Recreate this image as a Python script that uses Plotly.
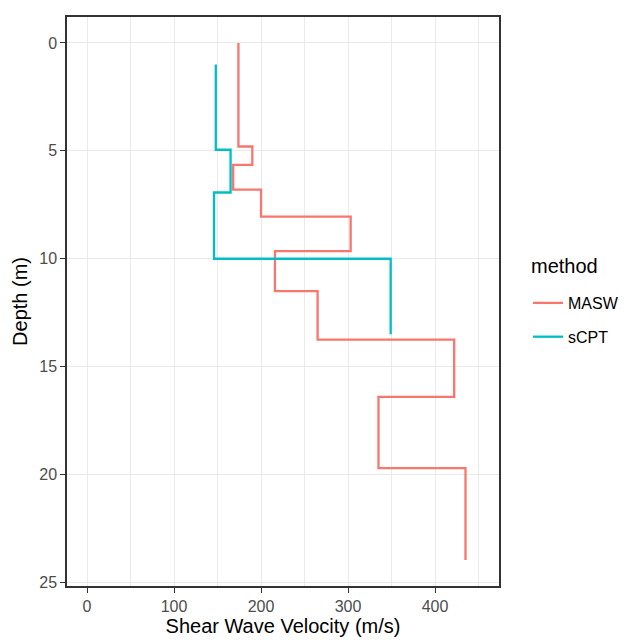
import plotly.graph_objects as go

# Data
masw_top = [0.0, 4.8, 5.65, 6.8, 8.05, 9.65, 11.5, 13.75, 16.4, 19.7]
masw_vs = [174, 190, 168, 200, 303, 216, 265, 422, 335, 435]
masw_bottom = 23.95

scpt_top = [1.0, 4.95, 6.93, 10.0]
scpt_vs = [148, 165, 146, 349]
scpt_bottom = 13.5

x_ticks = [0, 100, 200, 300, 400]
y_ticks = [0, 5, 10, 15, 20, 25]

FONT = "Liberation Sans"
W, H = 624, 640
ML, MR, MT, MB = 67, 125, 17, 54
PW, PH = W - ML - MR, H - MT - MB

def px_x(p):
    return (p - ML) / PW

def px_y(p):
    return (H - MB - p) / PH

def profile(vs, top, bottom):
    return list(vs) + [vs[-1]], list(top) + [bottom]

fig = go.Figure()
for name, vs, top, bot, col in [
    ("MASW", masw_vs, masw_top, masw_bottom, "#F8766D"),
    ("sCPT", scpt_vs, scpt_top, scpt_bottom, "#00BFC4"),
]:
    x, y = profile(vs, top, bot)
    fig.add_trace(go.Scatter(x=x, y=y, mode="lines", name=name, legendgroup=name,
                             line=dict(color=col, width=2.3, shape="vh")))

axis_common = dict(
    showgrid=True, gridcolor="#EBEBEB", gridwidth=1.3, automargin=False,
    zeroline=False, showline=True, linecolor="#333333", linewidth=1.5, mirror=True,
    ticks="outside", ticklen=5, tickcolor="#333333", tickwidth=1.3,
    tickfont=dict(family=FONT, size=16, color="#4D4D4D"),
)

fig.update_xaxes(
    range=[-23, 473.5], tickvals=x_ticks, ticktext=[str(v) for v in x_ticks],
    minor=dict(dtick=50, tick0=0, showgrid=True, gridcolor="#EBEBEB", gridwidth=0.8, ticks=""),
    title=dict(text="Shear Wave Velocity (m/s)", font=dict(family=FONT, size=20, color="black"), standoff=4),
    **axis_common,
)
fig.update_yaxes(
    range=[25.16, -1.2], tickvals=y_ticks, ticktext=[str(v) for v in y_ticks],
    title=dict(text="Depth (m)", font=dict(family=FONT, size=20, color="black"), standoff=6),
    **axis_common,
)

fig.add_annotation(text="method", xref="paper", yref="paper",
                   x=px_x(529), y=px_y(266), xanchor="left", yanchor="middle",
                   showarrow=False, font=dict(family=FONT, size=20, color="black"))

fig.update_layout(
    width=W, height=H,
    margin=dict(l=ML, r=MR, t=MT, b=MB, autoexpand=False),
    plot_bgcolor="white", paper_bgcolor="white",
    font=dict(family=FONT),
    legend=dict(
        font=dict(family=FONT, size=16, color="black"),
        xref="container", yref="container",
        x=528 / W, xanchor="left", y=1 - 320 / H, yanchor="middle",
        tracegroupgap=10, bgcolor="rgba(0,0,0,0)",
    ),
)

fig.write_html(
    "out.html",
    config={"displayModeBar": False},
    post_script="document.body.style.margin='0';document.body.style.overflow='hidden';",
)
